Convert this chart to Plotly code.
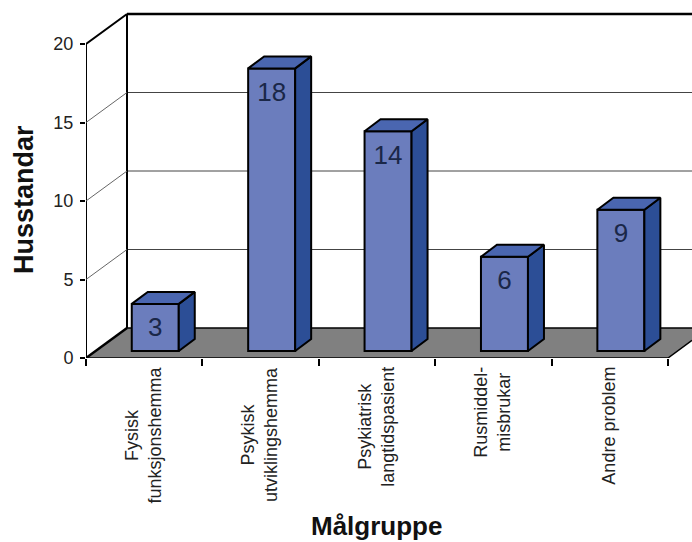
import plotly.graph_objects as go

categories = ["Fysisk<br>funksjonshemma", "Psykisk<br>utviklingshemma", "Psykiatrisk<br>langtidspasient", "Rusmiddel-<br>misbrukar", "Andre problem"]
values = [3, 18, 14, 6, 9]
y_ticks = [0, 5, 10, 15, 20]
x_edges = [0, 1, 2, 3, 4, 5]

# Geometry of the fake 3D box, in axis units
PX_X = 116.4
PX_Y = 15.7
PLOT_W = 606
PLOT_H = 348
X_MAX = PLOT_W / PX_X
Y_MAX = PLOT_H / PX_Y
DX = 41 / PX_X      # wall depth
DY = 30 / PX_Y
BX = 16 / PX_X      # bar depth
BY = 12 / PX_Y
BASE = 7 / PX_Y     # bar base above the front edge
BW = 47 / PX_X
SHIFT = 0.595
FLOOR_R = 5.0

C_FRONT = "#6b7dbd"
C_SIDE = "#2c4e96"
C_TOP = "#4a66b0"
C_FLOOR = "#808080"
C_TEXT = "#1a2748"
FONT = "Liberation Sans, Arial, sans-serif"

fig = go.Figure()
xc = [i + SHIFT for i in range(len(values))]

# Front faces
fig.add_trace(go.Bar(
    x=xc, y=values, base=BASE, width=BW,
    marker=dict(color=C_FRONT, line=dict(color="#000000", width=2)),
    hoverinfo="skip", showlegend=False))

# Side and top faces
for x, v in zip(xc, values):
    xl, xr = x - BW / 2, x + BW / 2
    top, bot = v + BASE, BASE
    fig.add_trace(go.Scatter(
        x=[xr, xr + BX, xr + BX, xr, xr], y=[bot, bot + BY, top + BY, top, bot],
        mode="lines", fill="toself", fillcolor=C_SIDE,
        line=dict(color="#000000", width=2), showlegend=False, hoverinfo="skip"))
    fig.add_trace(go.Scatter(
        x=[xl, xl + BX, xr + BX, xr, xl], y=[top, top + BY, top + BY, top, top],
        mode="lines", fill="toself", fillcolor=C_TOP,
        line=dict(color="#000000", width=2), showlegend=False, hoverinfo="skip"))

# Value labels on the front faces
fig.add_trace(go.Scatter(
    x=xc, y=[v + BASE - 1.65 for v in values], mode="text",
    text=[str(v) for v in values],
    textfont=dict(family=FONT, size=26, color=C_TEXT),
    textposition="middle center", showlegend=False, hoverinfo="skip"))

# Box outlines drawn above everything
def outline(xs, ys, w=2.0, c="#000000"):
    fig.add_trace(go.Scatter(x=xs, y=ys, mode="lines", line=dict(color=c, width=w),
                             cliponaxis=False, showlegend=False, hoverinfo="skip"))

outline([0, 0, DX], [0, 20, 20 + DY], 2)
outline([DX, DX], [DY, 20 + DY], 2)
outline([DX, X_MAX], [20 + DY, 20 + DY], 2.5)
outline([0, DX], [0, DY], 2.5)
outline([0, FLOOR_R, X_MAX], [0, 0, (X_MAX - FLOOR_R) * DY / DX], 1.5)
for t in y_ticks[1:-1]:
    outline([0, DX], [t, t + DY], 1, "#666666")

# Floor and back-wall grid sit under the bars
shapes = [dict(type="path", xref="x", yref="y", layer="below",
               path=f"M 0 0 L {DX} {DY} L {FLOOR_R + DX} {DY} L {FLOOR_R} 0 Z",
               fillcolor=C_FLOOR, line=dict(width=0))]
shapes.append(dict(type="line", xref="x", yref="y", layer="below",
                   x0=DX, x1=FLOOR_R + 1, y0=DY, y1=DY,
                   line=dict(color="#000000", width=1.5)))
for t in y_ticks[1:-1]:
    shapes.append(dict(type="line", xref="x", yref="y", layer="below",
                       x0=DX, x1=FLOOR_R + 1, y0=t + DY, y1=t + DY,
                       line=dict(color="#444444", width=1)))

annotations = [dict(x=i + 0.49, y=-7 / PLOT_H, xref="x", yref="paper", text=c, textangle=-90,
                    showarrow=False, xanchor="center", yanchor="top", align="center",
                    font=dict(family=FONT, size=18, color="#222222"))
               for i, c in enumerate(categories)]
annotations.append(dict(x=290 / PLOT_W, y=-168 / PLOT_H, xref="paper", yref="paper",
                        text="<b>Målgruppe</b>", showarrow=False, xanchor="center", yanchor="middle",
                        font=dict(family=FONT, size=26, color="#111111")))
annotations.append(dict(x=-62 / PLOT_W, y=158 / PLOT_H, xref="paper", yref="paper",
                        text="<b>Husstandar</b>", textangle=-90, showarrow=False,
                        xanchor="center", yanchor="middle",
                        font=dict(family=FONT, size=27, color="#111111")))

fig.update_layout(
    width=692, height=542, autosize=False,
    margin=dict(l=86, r=0, t=10, b=184, autoexpand=False),
    paper_bgcolor="#ffffff", plot_bgcolor="#ffffff",
    showlegend=False, shapes=shapes, annotations=annotations,
    font=dict(family=FONT),
    xaxis=dict(range=[0, X_MAX], tickvals=x_edges, showticklabels=False, ticks="outside",
               ticklen=7, tickwidth=1.5, tickcolor="#000000", showgrid=False, zeroline=False,
               showline=False, automargin=False),
    yaxis=dict(range=[0, Y_MAX], tickvals=y_ticks, ticks="outside", ticklen=5, tickwidth=1.5,
               tickcolor="#000000", showgrid=False, zeroline=False, showline=False, automargin=False,
               ticklabelstandoff=3,
               tickfont=dict(family=FONT, size=18, color="#222222")),
)
fig.write_html("out.html", config=dict(displayModeBar=False),
               post_script="document.body.style.margin='0';document.body.style.overflow='hidden';")
